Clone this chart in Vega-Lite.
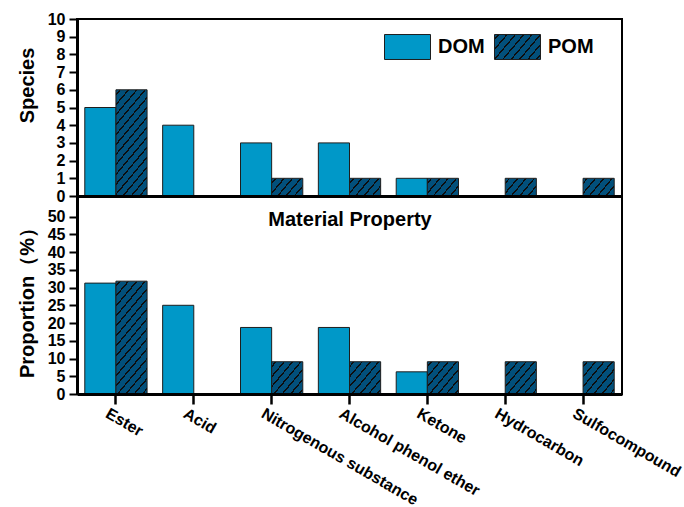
{
  "$schema": "https://vega.github.io/schema/vega-lite/v6.json",
  "autosize": {"type": "none"},
  "padding": {"left": 77, "top": 19, "right": 607, "bottom": 488},
  "background": "white",
  "params": [
    {
      "name": "pomHatch",
      "value": {
        "gradient": "linear", "x1": 0, "y1": 0, "x2": 1.2054, "y2": 0.5497,
        "stops": [
          {"offset": 0, "color": "#02507B"},
          {"offset": 0.0497, "color": "#02507B"}, {"offset": 0.0497, "color": "#0d0d0d"}, {"offset": 0.0751, "color": "#0d0d0d"}, {"offset": 0.0751, "color": "#02507B"},
          {"offset": 0.1744, "color": "#02507B"}, {"offset": 0.1744, "color": "#0d0d0d"}, {"offset": 0.1998, "color": "#0d0d0d"}, {"offset": 0.1998, "color": "#02507B"},
          {"offset": 0.2992, "color": "#02507B"}, {"offset": 0.2992, "color": "#0d0d0d"}, {"offset": 0.3246, "color": "#0d0d0d"}, {"offset": 0.3246, "color": "#02507B"},
          {"offset": 0.4239, "color": "#02507B"}, {"offset": 0.4239, "color": "#0d0d0d"}, {"offset": 0.4493, "color": "#0d0d0d"}, {"offset": 0.4493, "color": "#02507B"},
          {"offset": 0.5487, "color": "#02507B"}, {"offset": 0.5487, "color": "#0d0d0d"}, {"offset": 0.5741, "color": "#0d0d0d"}, {"offset": 0.5741, "color": "#02507B"},
          {"offset": 0.6734, "color": "#02507B"}, {"offset": 0.6734, "color": "#0d0d0d"}, {"offset": 0.6988, "color": "#0d0d0d"}, {"offset": 0.6988, "color": "#02507B"},
          {"offset": 0.7981, "color": "#02507B"}, {"offset": 0.7981, "color": "#0d0d0d"}, {"offset": 0.8235, "color": "#0d0d0d"}, {"offset": 0.8235, "color": "#02507B"},
          {"offset": 0.9229, "color": "#02507B"}, {"offset": 0.9229, "color": "#0d0d0d"}, {"offset": 0.9483, "color": "#0d0d0d"}, {"offset": 0.9483, "color": "#02507B"},
          {"offset": 1, "color": "#02507B"}
        ]
      }
    }
  ],
  "config": {
    "font": "Liberation Sans",
    "view": {"stroke": "#000000", "strokeWidth": 2, "fill": null},
    "axis": {
      "labelFont": "Liberation Sans",
      "titleFont": "Liberation Sans",
      "labelFontWeight": "bold",
      "titleFontWeight": "bold",
      "labelColor": "#000000",
      "titleColor": "#000000",
      "domainColor": "#000000",
      "tickColor": "#000000",
      "grid": false,
      "labelFontSize": 16
    },
    "legend": {"labelFont": "Liberation Sans"}
  },
  "data": {
    "values": [
      {"category": "Ester", "group": "DOM", "species": 5, "proportion": 31.25},
      {"category": "Ester", "group": "POM", "species": 6, "proportion": 31.8},
      {"category": "Acid", "group": "DOM", "species": 4, "proportion": 25},
      {"category": "Acid", "group": "POM", "species": 0, "proportion": 0},
      {"category": "Nitrogenous substance", "group": "DOM", "species": 3, "proportion": 18.75},
      {"category": "Nitrogenous substance", "group": "POM", "species": 1, "proportion": 9.09},
      {"category": "Alcohol phenol ether", "group": "DOM", "species": 3, "proportion": 18.75},
      {"category": "Alcohol phenol ether", "group": "POM", "species": 1, "proportion": 9.09},
      {"category": "Ketone", "group": "DOM", "species": 1, "proportion": 6.25},
      {"category": "Ketone", "group": "POM", "species": 1, "proportion": 9.09},
      {"category": "Hydrocarbon", "group": "DOM", "species": 0, "proportion": 0},
      {"category": "Hydrocarbon", "group": "POM", "species": 1, "proportion": 9.09},
      {"category": "Sulfocompound", "group": "DOM", "species": 0, "proportion": 0},
      {"category": "Sulfocompound", "group": "POM", "species": 1, "proportion": 9.09}
    ]
  },
  "spacing": 0,
  "bounds": "flush",
  "vconcat": [
    {
      "width": 545,
      "height": 177,
      "mark": {"type": "bar", "stroke": "#1e1e1e", "strokeWidth": 1},
      "encoding": {
        "x": {
          "field": "category", "type": "nominal", "sort": null,
          "scale": {"paddingInner": 0.2, "paddingOuter": 0.1},
          "axis": {
            "labels": false, "ticks": false, "tickSize": 0,
            "title": "Material Property", "titleFontSize": 20,
            "titleX": 272.5, "titleY": 29, "titleBaseline": "alphabetic",
            "domainWidth": 3, "zindex": 1
          }
        },
        "xOffset": {"field": "group", "type": "nominal", "sort": ["DOM", "POM"], "scale": {"paddingInner": 0, "paddingOuter": 0}},
        "y": {
          "field": "species", "type": "quantitative",
          "scale": {"domain": [0, 10], "nice": false},
          "axis": {
            "title": "Species", "values": [0, 1, 2, 3, 4, 5, 6, 7, 8, 9, 10],
            "tickSize": 8, "tickWidth": 2, "labelPadding": 4, "domainWidth": 3,
            "titleFontSize": 20, "titleX": -44, "titleY": 66, "titleBaseline": "alphabetic",
            "zindex": 1
          }
        },
        "fill": {
          "field": "group", "type": "nominal",
          "scale": {"domain": ["DOM", "POM"], "range": ["#0098C8", {"expr": "pomHatch"}]},
          "legend": {
            "orient": "none", "legendX": 307, "legendY": 4.5, "direction": "horizontal",
            "title": null, "padding": 0,
            "symbolType": "M-1,-0.543H1V0.543H-1Z", "symbolSize": 2116,
            "symbolStrokeColor": "#1e1e1e", "symbolStrokeWidth": 1,
            "labelFontSize": 20, "labelFontWeight": "bold", "labelColor": "#000000",
            "labelOffset": 7, "columnPadding": 7, "labelLimit": 200
          },
          "condition": [
            {
              "test": "datum.group === 'POM' && datum.species > 3",
              "value": {
                "gradient": "linear", "x1": 0, "y1": 0, "x2": 0.4202, "y2": 1.2026,
                "stops": [
                  {"offset": 0, "color": "#02507B"},
                  {"offset": 0.0276, "color": "#02507B"}, {"offset": 0.0276, "color": "#0d0d0d"}, {"offset": 0.0418, "color": "#0d0d0d"}, {"offset": 0.0418, "color": "#02507B"},
                  {"offset": 0.0971, "color": "#02507B"}, {"offset": 0.0971, "color": "#0d0d0d"}, {"offset": 0.1113, "color": "#0d0d0d"}, {"offset": 0.1113, "color": "#02507B"},
                  {"offset": 0.1666, "color": "#02507B"}, {"offset": 0.1666, "color": "#0d0d0d"}, {"offset": 0.1808, "color": "#0d0d0d"}, {"offset": 0.1808, "color": "#02507B"},
                  {"offset": 0.2361, "color": "#02507B"}, {"offset": 0.2361, "color": "#0d0d0d"}, {"offset": 0.2503, "color": "#0d0d0d"}, {"offset": 0.2503, "color": "#02507B"},
                  {"offset": 0.3055, "color": "#02507B"}, {"offset": 0.3055, "color": "#0d0d0d"}, {"offset": 0.3197, "color": "#0d0d0d"}, {"offset": 0.3197, "color": "#02507B"},
                  {"offset": 0.3750, "color": "#02507B"}, {"offset": 0.3750, "color": "#0d0d0d"}, {"offset": 0.3892, "color": "#0d0d0d"}, {"offset": 0.3892, "color": "#02507B"},
                  {"offset": 0.4445, "color": "#02507B"}, {"offset": 0.4445, "color": "#0d0d0d"}, {"offset": 0.4587, "color": "#0d0d0d"}, {"offset": 0.4587, "color": "#02507B"},
                  {"offset": 0.5140, "color": "#02507B"}, {"offset": 0.5140, "color": "#0d0d0d"}, {"offset": 0.5282, "color": "#0d0d0d"}, {"offset": 0.5282, "color": "#02507B"},
                  {"offset": 0.5834, "color": "#02507B"}, {"offset": 0.5834, "color": "#0d0d0d"}, {"offset": 0.5976, "color": "#0d0d0d"}, {"offset": 0.5976, "color": "#02507B"},
                  {"offset": 0.6529, "color": "#02507B"}, {"offset": 0.6529, "color": "#0d0d0d"}, {"offset": 0.6671, "color": "#0d0d0d"}, {"offset": 0.6671, "color": "#02507B"},
                  {"offset": 0.7224, "color": "#02507B"}, {"offset": 0.7224, "color": "#0d0d0d"}, {"offset": 0.7366, "color": "#0d0d0d"}, {"offset": 0.7366, "color": "#02507B"},
                  {"offset": 0.7919, "color": "#02507B"}, {"offset": 0.7919, "color": "#0d0d0d"}, {"offset": 0.8061, "color": "#0d0d0d"}, {"offset": 0.8061, "color": "#02507B"},
                  {"offset": 0.8613, "color": "#02507B"}, {"offset": 0.8613, "color": "#0d0d0d"}, {"offset": 0.8755, "color": "#0d0d0d"}, {"offset": 0.8755, "color": "#02507B"},
                  {"offset": 0.9308, "color": "#02507B"}, {"offset": 0.9308, "color": "#0d0d0d"}, {"offset": 0.9450, "color": "#0d0d0d"}, {"offset": 0.9450, "color": "#02507B"},
                  {"offset": 1, "color": "#02507B"}
                ]
              }
            },
            {
              "test": "datum.group === 'POM'",
              "value": {
                "gradient": "linear", "x1": 0, "y1": 0, "x2": 1.2032, "y2": 0.5739,
                "stops": [
                  {"offset": 0, "color": "#02507B"},
                  {"offset": 0.0723, "color": "#02507B"}, {"offset": 0.0723, "color": "#0d0d0d"}, {"offset": 0.1093, "color": "#0d0d0d"}, {"offset": 0.1093, "color": "#02507B"},
                  {"offset": 0.2540, "color": "#02507B"}, {"offset": 0.2540, "color": "#0d0d0d"}, {"offset": 0.2910, "color": "#0d0d0d"}, {"offset": 0.2910, "color": "#02507B"},
                  {"offset": 0.4356, "color": "#02507B"}, {"offset": 0.4356, "color": "#0d0d0d"}, {"offset": 0.4726, "color": "#0d0d0d"}, {"offset": 0.4726, "color": "#02507B"},
                  {"offset": 0.6173, "color": "#02507B"}, {"offset": 0.6173, "color": "#0d0d0d"}, {"offset": 0.6543, "color": "#0d0d0d"}, {"offset": 0.6543, "color": "#02507B"},
                  {"offset": 0.7989, "color": "#02507B"}, {"offset": 0.7989, "color": "#0d0d0d"}, {"offset": 0.8359, "color": "#0d0d0d"}, {"offset": 0.8359, "color": "#02507B"},
                  {"offset": 1, "color": "#02507B"}
                ]
              }
            }
          ]
        }
      }
    },
    {
      "width": 545,
      "height": 198,
      "mark": {"type": "bar", "stroke": "#1e1e1e", "strokeWidth": 1},
      "encoding": {
        "x": {
          "field": "category", "type": "nominal", "sort": null,
          "scale": {"paddingInner": 0.2, "paddingOuter": 0.1},
          "axis": {
            "title": null, "labelAngle": 30, "labelAlign": "left", "labelBaseline": "top",
            "labelFontSize": 16, "labelPadding": 1, "labelOffset": -5, "labelLimit": 400,
            "tickSize": 10, "tickWidth": 2.5, "domainWidth": 3, "zindex": 1
          }
        },
        "xOffset": {"field": "group", "type": "nominal", "sort": ["DOM", "POM"], "scale": {"paddingInner": 0, "paddingOuter": 0}},
        "y": {
          "field": "proportion", "type": "quantitative",
          "scale": {"domain": [0, 55.8], "nice": false},
          "axis": {
            "title": "Proportion（%）", "values": [0, 5, 10, 15, 20, 25, 30, 35, 40, 45, 50],
            "tickSize": 8, "tickWidth": 2, "labelPadding": 4, "domainWidth": 3,
            "titleFontSize": 20, "titleX": -44, "titleY": 101.5, "titleBaseline": "alphabetic",
            "zindex": 1
          }
        },
        "fill": {
          "field": "group", "type": "nominal",
          "legend": null,
          "condition": [
            {
              "test": "datum.group === 'POM' && datum.proportion > 20",
              "value": {
                "gradient": "linear", "x1": 0, "y1": 0, "x2": 0.3950, "y2": 1.1993,
                "stops": [
                  {"offset": 0, "color": "#02507B"},
                  {"offset": 0.0264, "color": "#02507B"}, {"offset": 0.0264, "color": "#0d0d0d"}, {"offset": 0.0400, "color": "#0d0d0d"}, {"offset": 0.0400, "color": "#02507B"},
                  {"offset": 0.0929, "color": "#02507B"}, {"offset": 0.0929, "color": "#0d0d0d"}, {"offset": 0.1065, "color": "#0d0d0d"}, {"offset": 0.1065, "color": "#02507B"},
                  {"offset": 0.1594, "color": "#02507B"}, {"offset": 0.1594, "color": "#0d0d0d"}, {"offset": 0.1730, "color": "#0d0d0d"}, {"offset": 0.1730, "color": "#02507B"},
                  {"offset": 0.2259, "color": "#02507B"}, {"offset": 0.2259, "color": "#0d0d0d"}, {"offset": 0.2395, "color": "#0d0d0d"}, {"offset": 0.2395, "color": "#02507B"},
                  {"offset": 0.2924, "color": "#02507B"}, {"offset": 0.2924, "color": "#0d0d0d"}, {"offset": 0.3060, "color": "#0d0d0d"}, {"offset": 0.3060, "color": "#02507B"},
                  {"offset": 0.3588, "color": "#02507B"}, {"offset": 0.3588, "color": "#0d0d0d"}, {"offset": 0.3724, "color": "#0d0d0d"}, {"offset": 0.3724, "color": "#02507B"},
                  {"offset": 0.4253, "color": "#02507B"}, {"offset": 0.4253, "color": "#0d0d0d"}, {"offset": 0.4389, "color": "#0d0d0d"}, {"offset": 0.4389, "color": "#02507B"},
                  {"offset": 0.4918, "color": "#02507B"}, {"offset": 0.4918, "color": "#0d0d0d"}, {"offset": 0.5054, "color": "#0d0d0d"}, {"offset": 0.5054, "color": "#02507B"},
                  {"offset": 0.5583, "color": "#02507B"}, {"offset": 0.5583, "color": "#0d0d0d"}, {"offset": 0.5719, "color": "#0d0d0d"}, {"offset": 0.5719, "color": "#02507B"},
                  {"offset": 0.6247, "color": "#02507B"}, {"offset": 0.6247, "color": "#0d0d0d"}, {"offset": 0.6383, "color": "#0d0d0d"}, {"offset": 0.6383, "color": "#02507B"},
                  {"offset": 0.6912, "color": "#02507B"}, {"offset": 0.6912, "color": "#0d0d0d"}, {"offset": 0.7048, "color": "#0d0d0d"}, {"offset": 0.7048, "color": "#02507B"},
                  {"offset": 0.7577, "color": "#02507B"}, {"offset": 0.7577, "color": "#0d0d0d"}, {"offset": 0.7713, "color": "#0d0d0d"}, {"offset": 0.7713, "color": "#02507B"},
                  {"offset": 0.8242, "color": "#02507B"}, {"offset": 0.8242, "color": "#0d0d0d"}, {"offset": 0.8378, "color": "#0d0d0d"}, {"offset": 0.8378, "color": "#02507B"},
                  {"offset": 0.8906, "color": "#02507B"}, {"offset": 0.8906, "color": "#0d0d0d"}, {"offset": 0.9042, "color": "#0d0d0d"}, {"offset": 0.9042, "color": "#02507B"},
                  {"offset": 0.9571, "color": "#02507B"}, {"offset": 0.9571, "color": "#0d0d0d"}, {"offset": 0.9707, "color": "#0d0d0d"}, {"offset": 0.9707, "color": "#02507B"},
                  {"offset": 1, "color": "#02507B"}
                ]
              }
            },
            {
              "test": "datum.group === 'POM'",
              "value": {
                "gradient": "linear", "x1": 0, "y1": 0, "x2": 1.0654, "y2": 0.9247,
                "stops": [
                  {"offset": 0, "color": "#02507B"},
                  {"offset": 0.0572, "color": "#02507B"}, {"offset": 0.0572, "color": "#0d0d0d"}, {"offset": 0.0864, "color": "#0d0d0d"}, {"offset": 0.0864, "color": "#02507B"},
                  {"offset": 0.2009, "color": "#02507B"}, {"offset": 0.2009, "color": "#0d0d0d"}, {"offset": 0.2301, "color": "#0d0d0d"}, {"offset": 0.2301, "color": "#02507B"},
                  {"offset": 0.3445, "color": "#02507B"}, {"offset": 0.3445, "color": "#0d0d0d"}, {"offset": 0.3737, "color": "#0d0d0d"}, {"offset": 0.3737, "color": "#02507B"},
                  {"offset": 0.4881, "color": "#02507B"}, {"offset": 0.4881, "color": "#0d0d0d"}, {"offset": 0.5173, "color": "#0d0d0d"}, {"offset": 0.5173, "color": "#02507B"},
                  {"offset": 0.6318, "color": "#02507B"}, {"offset": 0.6318, "color": "#0d0d0d"}, {"offset": 0.6610, "color": "#0d0d0d"}, {"offset": 0.6610, "color": "#02507B"},
                  {"offset": 0.7754, "color": "#02507B"}, {"offset": 0.7754, "color": "#0d0d0d"}, {"offset": 0.8046, "color": "#0d0d0d"}, {"offset": 0.8046, "color": "#02507B"},
                  {"offset": 0.9190, "color": "#02507B"}, {"offset": 0.9190, "color": "#0d0d0d"}, {"offset": 0.9482, "color": "#0d0d0d"}, {"offset": 0.9482, "color": "#02507B"},
                  {"offset": 1, "color": "#02507B"}
                ]
              }
            }
          ]
        }
      }
    }
  ]
}
